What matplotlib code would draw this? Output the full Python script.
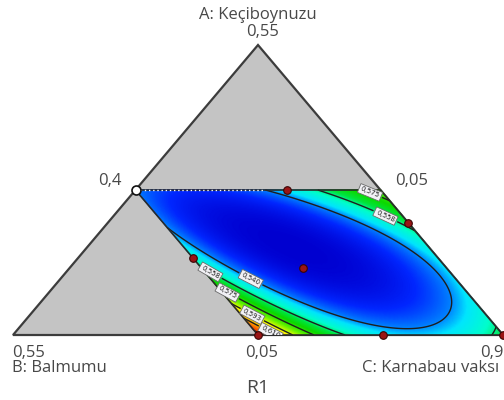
import numpy as np
import matplotlib
matplotlib.use("Agg")
import matplotlib.pyplot as plt
from matplotlib.colors import LinearSegmentedColormap

# mixture constraints (real fractions): A, B, C lower bounds
LOWER = [0.05, 0.05, 0.40]
SPAN = 1 - sum(LOWER)

# design points (real fractions)
pts_A = [0.300, 0.183, 0.166, 0.050, 0.243, 0.050, 0.050]
pts_B = [0.145, 0.300, 0.196, 0.172, 0.050, 0.300, 0.050]
pts_C = [0.555, 0.517, 0.638, 0.778, 0.707, 0.650, 0.900]
# prediction point (open circle)
opt_A, opt_B, opt_C = [0.30], [0.30], [0.40]

# constrained region corners
reg_A = [0.30, 0.30, 0.05, 0.05, 0.30]
reg_B = [0.30, 0.05, 0.05, 0.30, 0.30]
reg_C = [0.40, 0.65, 0.90, 0.65, 0.40]

# fitted surface for R1 (in pseudo components s=a+b, u=b-a)
FIT_CENTER = (0.582, -0.025)
FIT_T = (-2.322, -0.352)
FIT_N = (0.036, 3.83)
EGG = 0.2
SKEW = 0.344
POWER = 1.25
R1_MIN, R1_SCALE = 0.52, 0.02
F_MAX = 5.62
LEVELS = [0.5400, 0.5576, 0.5752, 0.5928, 0.6104, 0.6280]


def to_xy(A, B, C):
    a = (np.asarray(A) - LOWER[0]) / SPAN
    c = (np.asarray(C) - LOWER[2]) / SPAN
    return c + 0.5 * a, a


def r1(a, b):
    ds = a + b - FIT_CENTER[0]
    du = b - a - FIT_CENTER[1]
    t = FIT_T[0] * ds + FIT_T[1] * du
    n = (FIT_N[0] * ds + FIT_N[1] * du) * (1 - EGG * t)
    d = np.minimum(n + 1, 0)
    n = np.where(n < -1, -1 + d + SKEW * d ** 2, n)
    return R1_MIN + R1_SCALE * (t ** 2 + n ** 2) ** POWER


cmap = LinearSegmentedColormap.from_list("de", [
    (0.00, (0.0, 0.0, 0.82)),
    (0.09, (0.0, 0.15, 1.0)),
    (0.17, (0.0, 0.5, 1.0)),
    (0.22, (0.0, 0.9, 1.0)),
    (0.30, (0.0, 1.0, 0.8)),
    (0.37, (0.0, 0.9, 0.25)),
    (0.45, (0.05, 0.85, 0.0)),
    (0.56, (0.4, 0.95, 0.0)),
    (0.68, (1.0, 1.0, 0.0)),
    (0.80, (1.0, 0.75, 0.0)),
    (0.88, (1.0, 0.45, 0.0)),
    (1.00, (0.85, 0.05, 0.0)),
])

fig = plt.figure(figsize=(5.04, 4.0), dpi=100)
ax = fig.add_axes([13 / 504, 65 / 400, 490 / 504, 290 / 400])
ax.set_xlim(0, 1)
ax.set_ylim(0, 1)
ax.axis("off")

# full simplex
tx, ty = to_xy([LOWER[0], LOWER[0], LOWER[0] + SPAN],
               [LOWER[1] + SPAN, LOWER[1], LOWER[1]],
               [LOWER[2], LOWER[2] + SPAN, LOWER[2]])
ax.fill(tx, ty, facecolor="#c4c4c4", edgecolor="#3c3c3c", lw=1.6,
        joinstyle="miter", clip_on=False, zorder=1)

# surface over the constrained region
ps = np.linspace(0, 0.5, 301)
aa, bb = np.meshgrid(ps, ps)
gx, gy = 1 - 0.5 * aa - bb, aa
zz = r1(aa, bb)
ax.pcolormesh(gx, gy, zz, shading="gouraud", cmap=cmap,
              vmin=R1_MIN, vmax=R1_MIN + R1_SCALE * F_MAX, zorder=2)
cs = ax.contour(gx, gy, zz, levels=LEVELS, colors="#1e1e1e",
                linewidths=1.0, zorder=3)
lbls = ax.clabel(cs, fmt=lambda v: f"{v:.3f}".replace(".", ","),
                 fontsize=5, inline=True, inline_spacing=3)
for t in lbls:
    t.set_bbox(dict(boxstyle="square,pad=0.25", fc="#f2f2f6",
                    ec="#6a6a6a", lw=0.6))

rx, ry = to_xy(reg_A, reg_B, reg_C)
ax.plot(rx, ry, color="#2a2a2a", lw=1.2, zorder=4, clip_on=False)
dx, dy = to_xy([0.30, 0.30], [0.30, 0.17], [0.40, 0.53])
ax.plot(dx, dy, color="white", lw=1.0, ls=(0, (1, 2)), zorder=4)

px, py = to_xy(pts_A, pts_B, pts_C)
ax.scatter(px, py, s=30, color="#9a1515", edgecolor="#3a0505",
           lw=0.8, zorder=6, clip_on=False)
ox, oy = to_xy(opt_A, opt_B, opt_C)
ax.scatter(ox, oy, s=42, color="white", edgecolor="#111111",
           lw=1.2, zorder=7, clip_on=False)

tc = "#484848"
kw = dict(color=tc, fontsize=12, family="Open Sans", clip_on=False)
ax.text(0.5, 1.103, "A: Keçiboynuzu", ha="center", va="center", **kw)
ax.text(0.51, 1.045, "0,55", ha="center", va="center", **kw)
ax.text(0.222, 0.531, "0,4", ha="right", va="center", **kw)
ax.text(0.78, 0.531, "0,05", ha="left", va="center", **kw)
ax.text(-0.002, -0.062, "0,55", ha="left", va="center", **kw)
ax.text(-0.002, -0.114, "B: Balmumu", ha="left", va="center", **kw)
ax.text(0.508, -0.062, "0,05", ha="center", va="center", **kw)
ax.text(0.953, -0.062, "0,9", ha="left", va="center", **kw)
ax.text(0.712, -0.114, "C: Karnabau vaksı", ha="left", va="center", **kw)
ax.text(0.5, -0.183, "R1", ha="center", va="center", color=tc,
        fontsize=14, family="Open Sans")

fig.savefig("out.png", dpi=100)
